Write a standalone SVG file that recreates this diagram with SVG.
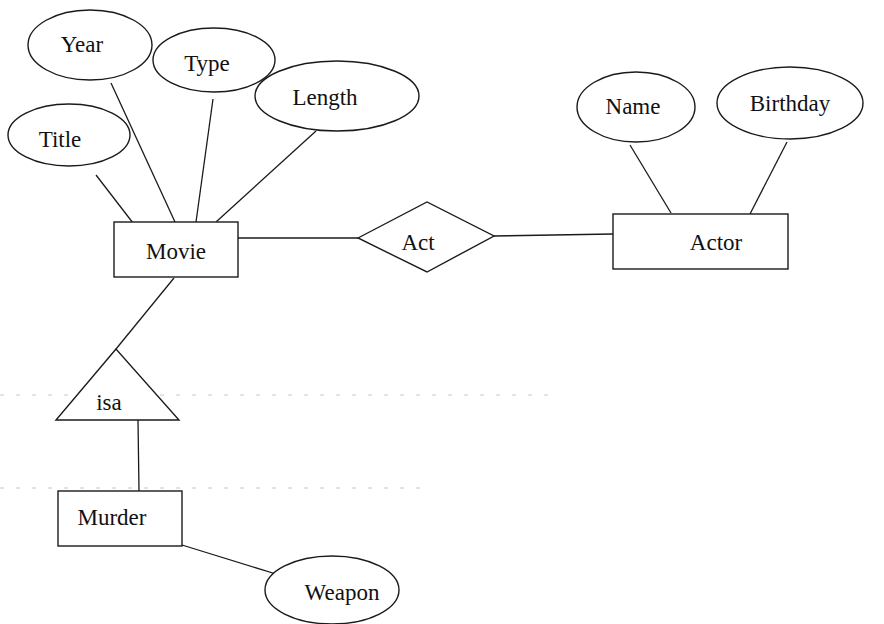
<svg xmlns="http://www.w3.org/2000/svg" width="884" height="624" viewBox="0 0 884 624">
<style>
.s{fill:#fff;stroke:#1a1a1a;stroke-width:1.4}
.c line{stroke:#1a1a1a;stroke-width:1.3;fill:none}
text{font-family:"Liberation Serif","Times New Roman",serif;font-size:23px;fill:#111;text-anchor:middle}
.n{stroke:#c8c8c8;stroke-width:1;stroke-dasharray:4 12;fill:none}
</style>
<rect width="884" height="624" fill="#fff"/>
<line class="n" x1="0" y1="395" x2="560" y2="395"/>
<line class="n" x1="0" y1="488" x2="420" y2="488"/>
<g class="c" id="connectors">
<line x1="96" y1="175" x2="133" y2="223"/>
<line x1="111" y1="83" x2="175" y2="222"/>
<line x1="213" y1="99" x2="196" y2="222"/>
<line x1="316" y1="131" x2="216" y2="222"/>
<line x1="238" y1="238" x2="358" y2="238"/>
<line x1="494" y1="236" x2="613" y2="234"/>
<line x1="630" y1="145" x2="671" y2="213"/>
<line x1="787" y1="142" x2="750" y2="214"/>
<line x1="174" y1="278" x2="116" y2="349"/>
<line x1="138" y1="420" x2="139" y2="491"/>
<line x1="182" y1="545" x2="276" y2="574"/>
</g>
<g id="year"><ellipse class="s" cx="90" cy="45" rx="62" ry="35"/><text x="82" y="52">Year</text></g>
<g id="type"><ellipse class="s" cx="214" cy="60" rx="61" ry="32"/><text x="207" y="71">Type</text></g>
<g id="length"><ellipse class="s" cx="337" cy="96" rx="82" ry="35"/><text x="325" y="105">Length</text></g>
<g id="title"><ellipse class="s" cx="69" cy="135" rx="61" ry="31"/><text x="60" y="147">Title</text></g>
<g id="movie"><rect class="s" x="114" y="222" width="124" height="55"/><text x="176" y="259">Movie</text></g>
<g id="act"><polygon class="s" points="358,238 427,202 494,236 427,272"/><text x="418" y="250">Act</text></g>
<g id="actor"><rect class="s" x="613" y="214" width="175" height="55"/><text x="716" y="250">Actor</text></g>
<g id="name"><ellipse class="s" cx="636" cy="107" rx="59" ry="35"/><text x="633" y="114">Name</text></g>
<g id="birthday"><ellipse class="s" cx="790" cy="103" rx="73" ry="36"/><text x="790" y="111">Birthday</text></g>
<g id="isa"><polygon class="s" points="116,349 56,420 179,420"/><text x="109" y="410">isa</text></g>
<g id="murder"><rect class="s" x="58" y="491" width="124" height="55"/><text x="112" y="525">Murder</text></g>
<g id="weapon"><ellipse class="s" cx="332" cy="590" rx="67" ry="34"/><text x="342" y="600">Weapon</text></g>
</svg>
